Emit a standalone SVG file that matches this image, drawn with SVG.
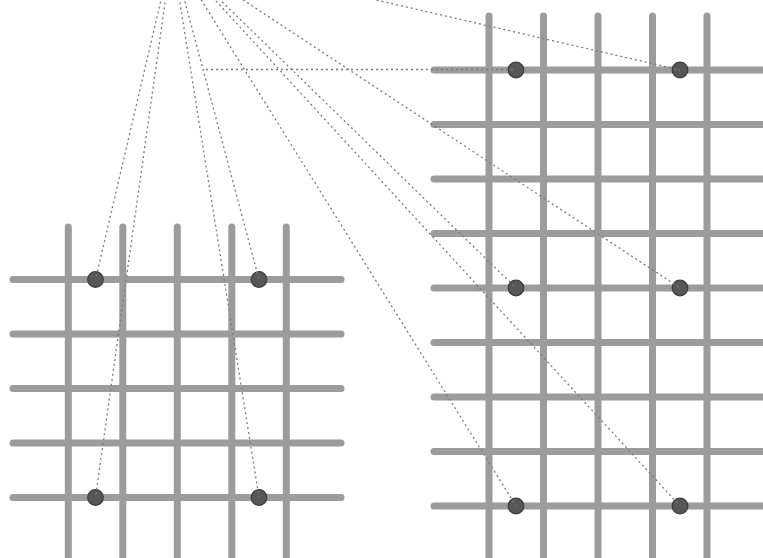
<svg xmlns="http://www.w3.org/2000/svg" width="763" height="558" viewBox="0 0 763 558">
<style>
.bar{stroke:#9c9c9c;stroke-width:7;stroke-linecap:round;fill:none}
.pt{fill:#575757;stroke:#3c3c3c;stroke-width:1.2}
.ray{stroke:#7a7a7a;stroke-width:1.3;stroke-dasharray:2 3;fill:none}
</style>
<rect width="763" height="558" fill="#ffffff"/>
<g id="grid-left">
<line class="bar" x1="13" y1="279.5" x2="341" y2="279.5"/>
<line class="bar" x1="13" y1="334" x2="341" y2="334"/>
<line class="bar" x1="13" y1="388.5" x2="341" y2="388.5"/>
<line class="bar" x1="13" y1="443" x2="341" y2="443"/>
<line class="bar" x1="13" y1="497.5" x2="341" y2="497.5"/>
<line class="bar" x1="68.3" y1="227" x2="68.3" y2="570"/>
<line class="bar" x1="122.8" y1="227" x2="122.8" y2="570"/>
<line class="bar" x1="177.3" y1="227" x2="177.3" y2="570"/>
<line class="bar" x1="231.8" y1="227" x2="231.8" y2="570"/>
<line class="bar" x1="286.3" y1="227" x2="286.3" y2="570"/>
</g>
<g id="grid-right">
<line class="bar" x1="434" y1="70" x2="780" y2="70"/>
<line class="bar" x1="434" y1="124.5" x2="780" y2="124.5"/>
<line class="bar" x1="434" y1="179" x2="780" y2="179"/>
<line class="bar" x1="434" y1="233.5" x2="780" y2="233.5"/>
<line class="bar" x1="434" y1="288" x2="780" y2="288"/>
<line class="bar" x1="434" y1="342.5" x2="780" y2="342.5"/>
<line class="bar" x1="434" y1="397" x2="780" y2="397"/>
<line class="bar" x1="434" y1="451.5" x2="780" y2="451.5"/>
<line class="bar" x1="434" y1="506" x2="780" y2="506"/>
<line class="bar" x1="489" y1="16" x2="489" y2="570"/>
<line class="bar" x1="543.5" y1="16" x2="543.5" y2="570"/>
<line class="bar" x1="598" y1="16" x2="598" y2="570"/>
<line class="bar" x1="652.5" y1="16" x2="652.5" y2="570"/>
<line class="bar" x1="707" y1="16" x2="707" y2="570"/>
</g>
<g id="points-left">
<circle class="pt" cx="95.5" cy="279.5" r="7.8"/>
<circle class="pt" cx="259" cy="279.5" r="7.8"/>
<circle class="pt" cx="95.5" cy="497.5" r="7.8"/>
<circle class="pt" cx="259" cy="497.5" r="7.8"/>
</g>
<g id="points-right">
<circle class="pt" cx="516" cy="70" r="7.8"/>
<circle class="pt" cx="680" cy="70" r="7.8"/>
<circle class="pt" cx="516" cy="288" r="7.8"/>
<circle class="pt" cx="680" cy="288" r="7.8"/>
<circle class="pt" cx="516" cy="506" r="7.8"/>
<circle class="pt" cx="680" cy="506" r="7.8"/>
</g>
<g id="connectors">
<line class="ray" x1="172" y1="-47" x2="95.5" y2="279.5"/>
<line class="ray" x1="172" y1="-47" x2="95.5" y2="497.5"/>
<line class="ray" x1="172" y1="-47" x2="259" y2="279.5"/>
<line class="ray" x1="172" y1="-47" x2="259" y2="497.5"/>
<line class="ray" x1="172" y1="-47" x2="680" y2="70"/>
<line class="ray" x1="172" y1="-47" x2="516" y2="288"/>
<line class="ray" x1="172" y1="-47" x2="680" y2="288"/>
<line class="ray" x1="172" y1="-47" x2="516" y2="506"/>
<line class="ray" x1="172" y1="-47" x2="680" y2="506"/>
<line class="ray" x1="206" y1="69.5" x2="516" y2="69.5"/>
</g>
</svg>
